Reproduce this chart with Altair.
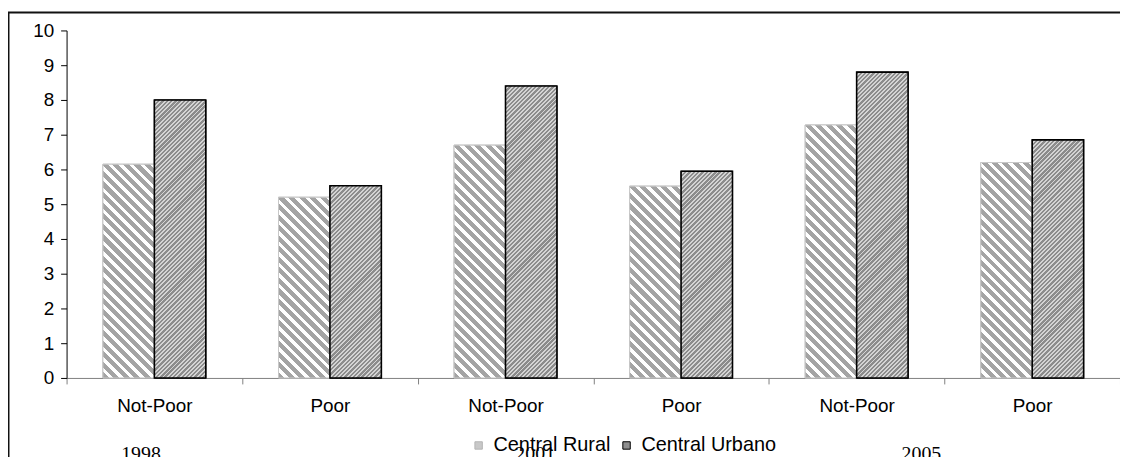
import altair as alt
import pandas as pd

# ---------------- data ----------------
CATEGORIES = ["1998|Not-Poor", "1998|Poor", "2001|Not-Poor", "2001|Poor", "2005|Not-Poor", "2005|Poor"]
SERIES = ["Central Rural", "Central Urbano"]
RURAL = [6.15, 5.2, 6.7, 5.52, 7.28, 6.2]
URBANO = [8.0, 5.53, 8.4, 5.95, 8.8, 6.85]
YEARS = ["1998", "2001", "2005"]
Y_TICKS = list(range(0, 11))

# ---------------- layout ----------------
W, H = 1061, 350
PAD = {"left": 59, "top": 21, "right": 0, "bottom": 78}
STEP = W / len(CATEGORIES)
PAD_OUT = 0.707
BAR_W = STEP / (2 + 2 * PAD_OUT)
FONT = "Liberation Sans"

rows = []
for c, r, u in zip(CATEGORIES, RURAL, URBANO):
    rows.append({"cat": c, "series": SERIES[0], "value": r})
    rows.append({"cat": c, "series": SERIES[1], "value": u})
df = pd.DataFrame(rows)


def stripes(h, w, period, frac, c1, c2, direction):
    """Linear gradient (bounding-box units) drawn as 45 degree hatching."""
    k = h / w
    s = (1 + k) / (1 + k * k)
    if direction == "back":  # "\" stripes
        x1, y1, x2, y2 = 0, 1, s, 1 - s * k
    else:  # "/" stripes
        x1, y1, x2, y2 = 0, 0, s, s * k
    n = max(1, round((w + h) / period))
    stops = []
    for j in range(n):
        a = j / n
        b = (j + frac) / n
        e = (j + 1) / n
        stops += [(a, c1), (b, c1), (b, c2), (e, c2)]
    return alt.LinearGradient(
        gradient="linear", x1=x1, y1=y1, x2=x2, y2=y2,
        stops=[alt.GradientStop(offset=min(1, round(o, 5)), color=col) for o, col in stops],
    )


x_enc = alt.X(
    "cat:N",
    scale=alt.Scale(domain=CATEGORIES, paddingInner=0, paddingOuter=0),
    axis=alt.Axis(
        title=None, labelExpr="split(datum.label, '|')[1]", tickBand="extent",
        tickSize=6, tickColor="#808080", domainColor="#808080", labelAngle=0,
        labelPadding=13, labelFont=FONT, labelFontSize=19, labelColor="black", grid=False,
    ),
)
xo_enc = alt.XOffset("series:N", scale=alt.Scale(domain=SERIES, paddingInner=0, paddingOuter=PAD_OUT))
y_enc = alt.Y(
    "value:Q",
    scale=alt.Scale(domain=[0, 10], nice=False),
    axis=alt.Axis(
        title=None, values=Y_TICKS, grid=False, tickSize=6, tickColor="black",
        domainColor="black", labelPadding=7, labelFont=FONT, labelFontSize=19,
        labelColor="black",
    ),
)

legend = alt.Legend(
    title=None, orient="none", legendX=405, legendY=408, direction="horizontal",
    labelFont=FONT, labelFontSize=20, labelColor="black", symbolType="square",
    symbolSize=56, symbolStrokeWidth=1, columnPadding=6, labelOffset=5,
)

frame = alt.Chart(df).mark_rect(fill="transparent", stroke="#111111", strokeWidth=2).encode(
    x=alt.value(-58.5), x2=alt.value(W + 40), y=alt.value(-18), y2=alt.value(H + 120)
).transform_filter("datum.cat == '1998|Not-Poor' && datum.series == 'Central Rural'")

base = alt.Chart(df).mark_bar().encode(
    x=x_enc, xOffset=xo_enc, y=y_enc,
    fill=alt.Fill("series:N", scale=alt.Scale(domain=SERIES, range=["#c8c8c8", "#8f8f8f"]), legend=legend),
    stroke=alt.Stroke("series:N", scale=alt.Scale(domain=SERIES, range=["#b4b4b4", "#000000"]), legend=legend),
)

layers = [frame, base]
for c, r, u in zip(CATEGORIES, RURAL, URBANO):
    for s, v in ((SERIES[0], r), (SERIES[1], u)):
        h = v / 10 * H
        if s == SERIES[0]:
            grad = stripes(h, BAR_W, 10.5, 0.58, "#a4a4a4", "#ffffff", "back")
            mk = dict(fill=grad, stroke="#c8c8c8", strokeWidth=1)
        else:
            grad = stripes(h, BAR_W, 4.3, 0.55, "#8c8c8c", "#d4d4d4", "fwd")
            mk = dict(fill=grad, stroke="#000000", strokeWidth=1.6)
        layers.append(
            alt.Chart(df)
            .transform_filter(f"datum.cat == '{c}' && datum.series == '{s}'")
            .mark_bar(**mk)
            .encode(x=x_enc, xOffset=xo_enc, y=y_enc)
        )

YEAR_X = [75, 472, 861]
for yr, xp in zip(YEARS, YEAR_X):
    layers.append(
        alt.Chart(df).transform_filter("datum.cat == '1998|Not-Poor' && datum.series == 'Central Rural'")
        .mark_text(font="Liberation Serif", fontSize=20, baseline="top", align="center", color="black")
        .encode(x=alt.value(xp), y=alt.value(417), text=alt.value(yr))
    )

chart = (
    alt.layer(*layers)
    .properties(width=W, height=H, padding=PAD, autosize=alt.AutoSizeParams(type="none"))
    .configure_view(strokeWidth=0)
)

chart.save("out.html", embed_options={"renderer": "svg", "actions": False})
